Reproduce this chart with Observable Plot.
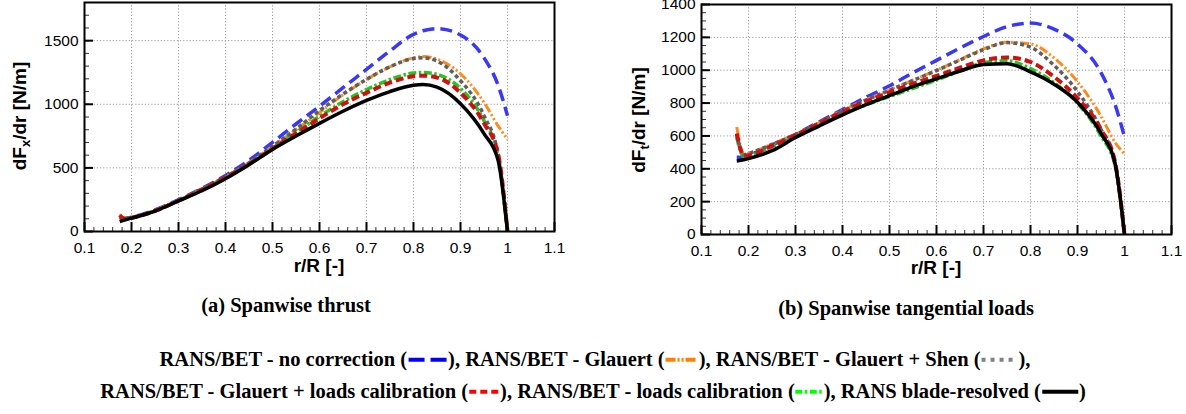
<!DOCTYPE html>
<html><head><meta charset="utf-8">
<script src="https://cdn.jsdelivr.net/npm/d3@7"></script>
<script src="https://cdn.jsdelivr.net/npm/@observablehq/plot@0.6"></script>
<style>
html,body{margin:0;padding:0;background:#fff;}
#wrap{position:relative;width:1186px;height:414px;overflow:hidden;background:#fff;}
.axlab{font-family:"Liberation Sans",Arial,sans-serif;font-weight:bold;font-size:19px;white-space:nowrap;transform:translate(-50%,-50%);line-height:1;}
.axlab sub{font-size:13px;vertical-align:-4px;line-height:0;}
.ylab{transform:translate(-50%,-50%) rotate(-90deg);}
.cap{font-family:"Liberation Serif","Times New Roman",serif;font-weight:bold;font-size:20.5px;white-space:nowrap;transform:translate(-50%,-50%);line-height:1;}
.leg{font-family:"Liberation Serif","Times New Roman",serif;font-weight:bold;font-size:20.5px;white-space:nowrap;transform:translate(-50%,-50%);line-height:1;}
.leg svg{vertical-align:middle;position:relative;top:-1px;}
</style></head>
<body><div id="wrap"></div>
<script>
// ---------- data ----------
const seriesNames = ["RANS/BET - no correction", "RANS/BET - Glauert", "RANS/BET - Glauert + Shen",
  "RANS/BET - Glauert + loads calibration", "RANS/BET - loads calibration", "RANS blade-resolved"];

// (a) spanwise thrust dFx/dr [N/m]
const rThrust = [0.175, 0.185, 0.2, 0.25, 0.3, 0.35, 0.4, 0.45, 0.5, 0.55, 0.6, 0.65, 0.7, 0.75, 0.8, 0.82, 0.85, 0.9, 0.95, 0.98, 1.0];
const thrustNoCorr   = [100, 102, 112, 170, 250, 340, 440, 560, 700, 845, 985, 1130, 1275, 1420, 1550, 1578, 1595, 1545, 1365, 1150, 910];
const thrustGlauert  = [135, 105, 110, 165, 245, 335, 430, 540, 670, 800, 935, 1075, 1195, 1295, 1365, 1375, 1355, 1240, 1015, 830, 725];
const thrustShen     = [115, 105, 110, 165, 245, 335, 430, 540, 670, 805, 950, 1080, 1195, 1295, 1360, 1365, 1340, 1185, 910, 605, 0];
const thrustGlCal    = [128, 100, 108, 162, 242, 330, 425, 530, 650, 770, 890, 1000, 1090, 1170, 1220, 1225, 1210, 1090, 850, 610, 0];
const thrustCal      = [110, 103, 108, 162, 242, 330, 425, 535, 655, 780, 905, 1020, 1115, 1195, 1245, 1250, 1235, 1125, 870, 595, 0];
const thrustResolved = [78, 90, 105, 160, 240, 320, 415, 525, 645, 750, 850, 945, 1030, 1100, 1150, 1155, 1135, 1005, 770, 560, 0];

// (b) spanwise tangential loads dFt/dr [N/m]
const rTang = [0.175, 0.19, 0.2, 0.25, 0.3, 0.35, 0.4, 0.45, 0.5, 0.55, 0.6, 0.65, 0.7, 0.75, 0.8, 0.85, 0.9, 0.95, 0.98, 1.0];
const tangNoCorr   = [470, 472, 482, 545, 610, 685, 760, 835, 905, 985, 1060, 1135, 1205, 1265, 1287, 1250, 1160, 985, 790, 595];
const tangGlauert  = [655, 490, 495, 550, 610, 680, 755, 820, 880, 940, 1000, 1065, 1130, 1170, 1160, 1075, 930, 720, 560, 490];
const tangShen     = [610, 485, 493, 548, 608, 678, 752, 818, 878, 938, 998, 1062, 1125, 1168, 1140, 1030, 870, 640, 430, 0];
const tangGlCal    = [615, 480, 482, 540, 605, 675, 745, 810, 865, 918, 965, 1015, 1060, 1078, 1050, 960, 830, 640, 440, 0];
const tangCal      = [590, 475, 478, 535, 595, 665, 730, 790, 840, 890, 940, 995, 1045, 1058, 1010, 925, 800, 600, 420, 0];
const tangResolved = [448, 455, 462, 510, 590, 660, 728, 790, 845, 900, 948, 995, 1035, 1040, 990, 915, 805, 615, 430, 0];

// axes ticks
const xTicks = [0.1, 0.2, 0.3, 0.4, 0.5, 0.6, 0.7, 0.8, 0.9, 1.0, 1.1];
const xTickLabels = ["0.1", "0.2", "0.3", "0.4", "0.5", "0.6", "0.7", "0.8", "0.9", "1", "1.1"];
const yTicksThrust = [0, 500, 1000, 1500];
const yTicksTang = [0, 200, 400, 600, 800, 1000, 1200, 1400];

// ---------- styles ----------
const plotStyles = [
  {stroke: "#3838f5", strokeWidth: 3.5, dash: "12,6"},
  {stroke: "#ff8a1c", strokeWidth: 3, dash: "9,2.5,2,2.5,2,2.5"},
  {stroke: "#5e5e5e", strokeWidth: 3.5, dash: "4,3"},
  {stroke: "#d01010", strokeWidth: 4, dash: "8,4"},
  {stroke: "#25c425", strokeWidth: 3.5, dash: "8,2.5,2.5,2.5"},
  {stroke: "#000000", strokeWidth: 3.5, dash: null}
];
const legendStyles = [
  {stroke: "#0000ff", dash: "16,6", w: 41},
  {stroke: "#ff7f00", dash: "10,2,2,2,2,2", w: 34},
  {stroke: "#808080", dash: "4,5", w: 38},
  {stroke: "#ff0000", dash: "7,4", w: 32},
  {stroke: "#00ff00", dash: "7,2.5,2.5,2.5", w: 29},
  {stroke: "#000000", dash: null, w: 38}
];
const drawOrder = [0, 1, 4, 2, 3, 5];

function range(a, b, step) { const out = []; const n = Math.round((b - a) / step); for (let i = 0; i <= n; i++) out.push(+(a + i * step).toFixed(6)); return out; }

function makeChart({r, series, yTicks, yMinorStep, yMax, width, height, margins}) {
  const xLab = new Map(xTicks.map((t, i) => [t, xTickLabels[i]]));
  const xMinor = range(0.1, 1.1, 0.02);
  const yMinor = range(0, yMax, yMinorStep);
  const grid = {stroke: "#9a9a9a", strokeOpacity: 1, strokeDasharray: "1.2,2", strokeWidth: 1};
  const marks = [
    Plot.gridX({ticks: xTicks, ...grid}),
    Plot.gridY({ticks: yTicks, ...grid}),
    Plot.axisX({ticks: xMinor, tickSize: -4, fill: "none", stroke: "#333", strokeWidth: 1, label: null}),
    Plot.axisY({ticks: yMinor, tickSize: -5, fill: "none", stroke: "#333", strokeWidth: 1, label: null}),
    Plot.axisX({ticks: xTicks, tickSize: -9, tickPadding: 19, stroke: "#000", strokeWidth: 2, tickFormat: d => xLab.get(d), label: null}),
    Plot.axisY({ticks: yTicks, tickSize: -9, tickPadding: 15, stroke: "#000", strokeWidth: 2, tickFormat: d => String(d), label: null})
  ];
  for (const k of drawOrder) {
    const st = plotStyles[k];
    const data = r.map((x, i) => ({r: x, v: series[k][i]}));
    marks.push(Plot.line(data, {x: "r", y: "v", stroke: st.stroke, strokeWidth: st.strokeWidth,
      strokeDasharray: st.dash, curve: "monotone-x", strokeLinecap: "butt", strokeLinejoin: "round"}));
  }
  marks.push(Plot.frame({stroke: "#000", strokeWidth: 2}));
  return Plot.plot({
    width, height, ...margins,
    x: {domain: [0.1, 1.1]},
    y: {domain: [0, yMax]},
    style: {fontFamily: "'Liberation Sans', Arial, sans-serif", fontSize: "15.5px", color: "#000", background: "transparent"},
    marks
  });
}

const wrap = document.getElementById("wrap");
function place(el, left, top) { el.style.position = "absolute"; el.style.left = left + "px"; el.style.top = top + "px"; wrap.appendChild(el); return el; }

const chartA = makeChart({
  r: rThrust,
  series: [thrustNoCorr, thrustGlauert, thrustShen, thrustGlCal, thrustCal, thrustResolved],
  yTicks: yTicksThrust, yMinorStep: 100, yMax: 1800,
  width: 570, height: 280,
  margins: {marginLeft: 84, marginRight: 16, marginTop: 2, marginBottom: 49}
});
place(chartA, 0, 0);

const chartB = makeChart({
  r: rTang,
  series: [tangNoCorr, tangGlauert, tangShen, tangGlCal, tangCal, tangResolved],
  yTicks: yTicksTang, yMinorStep: 50, yMax: 1400,
  width: 566, height: 280,
  margins: {marginLeft: 81, marginRight: 15, marginTop: 4, marginBottom: 46}
});
place(chartB, 620, 0);

function label(html, cls, x, y) {
  const d = document.createElement("div");
  d.className = cls; d.innerHTML = html;
  d.style.position = "absolute"; d.style.left = x + "px"; d.style.top = y + "px";
  wrap.appendChild(d); return d;
}
label("dF<sub>x</sub>/dr [N/m]", "axlab ylab", 19, 116);
label("r/R [-]", "axlab", 319, 265);
label("dF<sub>t</sub>/dr [N/m]", "axlab ylab", 638, 120);
label("r/R [-]", "axlab", 936, 267);
label("(a) Spanwise thrust", "cap", 286, 305);
label("(b) Spanwise tangential loads", "cap", 906, 308);

function swatch(s) {
  const w = s.w;
  return `<svg width="${w}" height="10" viewBox="0 0 ${w} 10"><line x1="1" y1="5" x2="${w - 1}" y2="5" stroke="${s.stroke}" stroke-width="4" ${s.dash ? `stroke-dasharray="${s.dash}"` : ""}/></svg>`;
}
function legendLine(idx, trailing) {
  return idx.map((k, j) => `${seriesNames[k]} (${swatch(legendStyles[k])})` + (j < idx.length - 1 ? ", " : trailing)).join("");
}
label(legendLine([0, 1, 2], ","), "leg", 595, 359);
label(legendLine([3, 4, 5], ""), "leg", 593, 391);
</script></body></html>
